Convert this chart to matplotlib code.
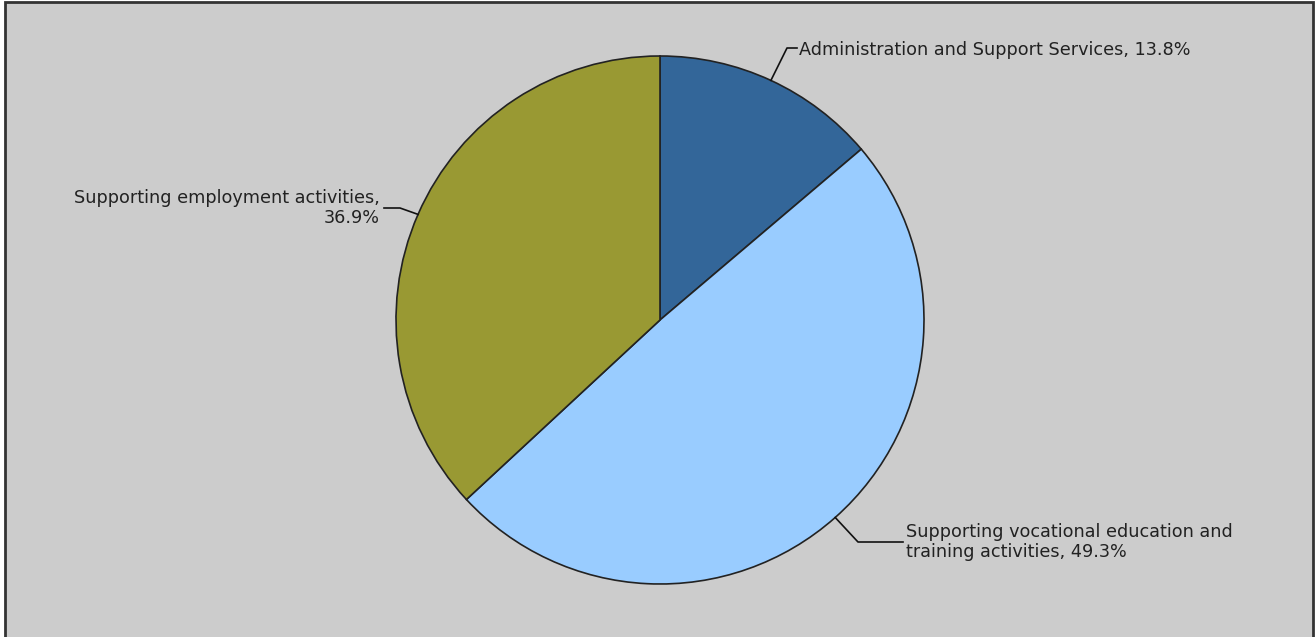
import matplotlib.pyplot as plt
import matplotlib.patches as mpatches
import numpy as np

# data
categories = ['Administration and Support Services', 'Supporting vocational education and\ntraining activities',
              'Supporting employment activities,\n']
values = [13.8, 49.3, 36.9]
colors = ['#336699', '#99ccff', '#999933']

W, H = 1315, 637
fig = plt.figure(figsize=(W / 100, H / 100), dpi=100)
fig.patch.set_facecolor('white')
ax = fig.add_axes([0, 0, 1, 1])

# grey panel with dark border
ax.add_patch(mpatches.Rectangle((5, -5), W - 7, H - 2 + 5, facecolor='#cccccc',
                                edgecolor='#333333', linewidth=2, zorder=0))

cx, cy, r = 660, H - 320, 264
wedges, _ = ax.pie(values, colors=colors, startangle=90, counterclock=False,
                   center=(cx, cy), radius=r, frame=True,
                   wedgeprops=dict(edgecolor='#222222', linewidth=1.2))
ax.set_xlim(0, W)
ax.set_ylim(0, H)
ax.set_aspect('equal')
ax.axis('off')

fs = 12.7
# label placement (elbow, end, text pos, alignment)
layout = [
    dict(elbow=(787, H - 48), end=(797, H - 48), text=(799, H - 50), ha='left'),
    dict(elbow=(858, H - 542), end=(903, H - 542), text=(906, H - 542), ha='left'),
    dict(elbow=(400, H - 208), end=(384, H - 208), text=(380, H - 208), ha='right'),
]
labels = [
    f'{categories[0]}, {values[0]}%',
    f'{categories[1]}, {values[1]}%',
    f'{categories[2]}{values[2]}%',
]
for w, lay, lab in zip(wedges, layout, labels):
    mid = np.deg2rad((w.theta1 + w.theta2) / 2)
    px, py = cx + r * np.cos(mid), cy + r * np.sin(mid)
    ax.plot([px, lay['elbow'][0], lay['end'][0]], [py, lay['elbow'][1], lay['end'][1]],
            color='#111111', linewidth=1.2, zorder=5)
    ax.text(lay['text'][0], lay['text'][1], lab, ha=lay['ha'], va='center',
            fontsize=fs, color='#222222', linespacing=1.1,
            multialignment=lay['ha'])

fig.savefig('out.png', dpi=100)
